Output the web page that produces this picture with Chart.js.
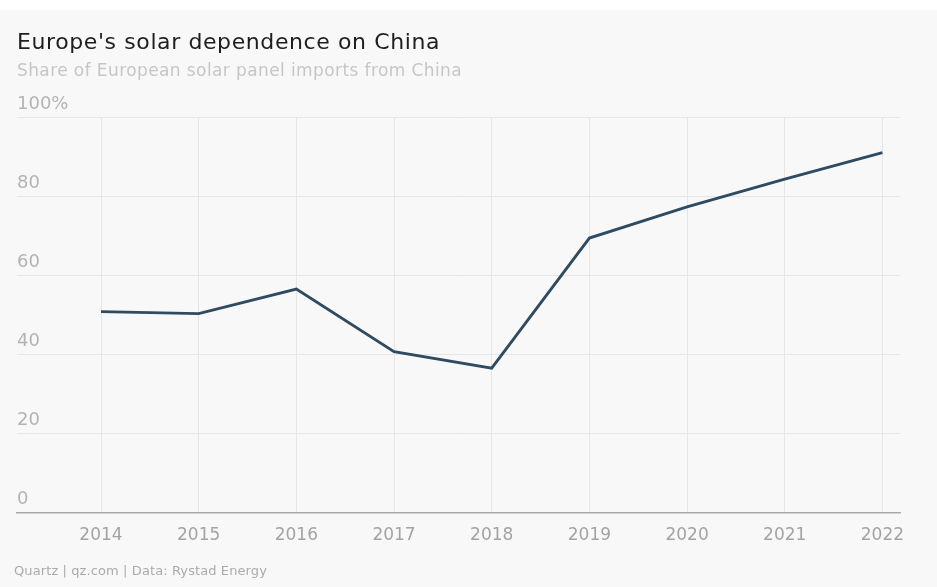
<!DOCTYPE html>
<html>
<head>
<meta charset="utf-8">
<script src="https://cdn.jsdelivr.net/npm/chart.js@4.4.0/dist/chart.umd.min.js"></script>
<style>
  html, body { margin: 0; padding: 0; background: #ffffff; }
  #wrap { position: absolute; left: 0; top: 10px; width: 937px; height: 577px; background: #f8f8f8; }
  #c { position: absolute; left: 0; top: 0; }
  .t { position: absolute; left: 17px; font-family: "DejaVu Sans", sans-serif; white-space: nowrap; }
  #title { top: 19px; font-size: 22px; letter-spacing: 0.6px; color: #1e1e1e; }
  #sub { top: 50px; font-size: 17px; letter-spacing: 0.4px; color: #c6c6c6; }
  #foot { left: 14px; top: 553px; font-size: 13px; letter-spacing: 0.1px; color: #ababab; }
</style>
</head>
<body>
<div id="wrap">
  <canvas id="c" width="937" height="577"></canvas>
  <div class="t" id="title">Europe's solar dependence on China</div>
  <div class="t" id="sub">Share of European solar panel imports from China</div>
  <div class="t" id="foot">Quartz | qz.com | Data: Rystad Energy</div>
</div>
<script>
const years = [2014, 2015, 2016, 2017, 2018, 2019, 2020, 2021, 2022];
const shareFromChina = [50.8, 50.3, 56.5, 40.7, 36.5, 69.4, 77.3, 84.3, 91.0];
const yTickValues = [0, 20, 40, 60, 80, 100];

const ctx = document.getElementById('c').getContext('2d');
new Chart(ctx, {
  type: 'line',
  data: {
    datasets: [{
      data: years.map((y, i) => ({ x: y, y: shareFromChina[i] })),
      borderColor: '#2f4b62',
      borderWidth: 2.8,
      pointRadius: 0,
      tension: 0,
      fill: false
    }]
  },
  options: {
    responsive: false,
    animation: false,
    layout: { padding: { left: 17, right: 37, top: 107, bottom: 28 } },
    plugins: { legend: { display: false }, tooltip: { enabled: false } },
    scales: {
      x: {
        type: 'linear',
        min: 2013.14,
        max: 2022.18,
        afterBuildTicks: s => { s.ticks = years.map(v => ({ value: v })); },
        ticks: {
          autoSkip: false,
          maxRotation: 0,
          padding: 13,
          color: '#a3a3a3',
          font: { family: '"DejaVu Sans", sans-serif', size: 17 },
          callback: v => String(v)
        },
        grid: { color: '#e6e6e6', lineWidth: 1, drawTicks: false },
        border: { display: true, color: '#a9a9a9', width: 1.5 }
      },
      y: {
        min: 0,
        max: 100,
        afterBuildTicks: s => { s.ticks = yTickValues.map(v => ({ value: v })); },
        ticks: {
          mirror: true,
          padding: 0,
          labelOffset: -13,
          color: '#b3b3b3',
          font: { family: '"DejaVu Sans", sans-serif', size: 18 },
          callback: v => v === 100 ? '100%' : String(v)
        },
        grid: { color: '#e6e6e6', lineWidth: 1, drawTicks: false },
        border: { display: false }
      }
    }
  }
});
</script>
</body>
</html>
